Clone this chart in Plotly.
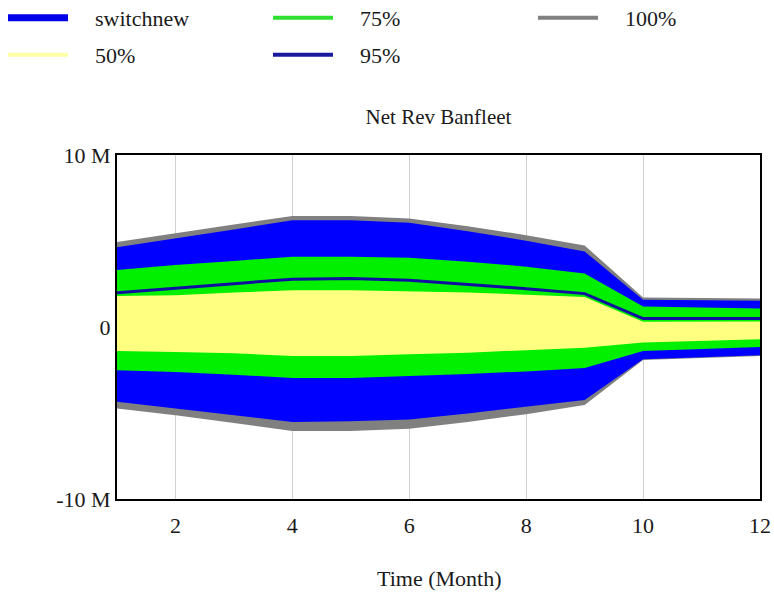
import plotly.graph_objects as go

# Months
months = [1, 2, 3, 4, 5, 6, 7, 8, 9, 10, 11, 12]

# Confidence bounds (values in millions)
p100_hi = [4.94, 5.47, 5.96, 6.45, 6.45, 6.31, 5.86, 5.34, 4.74, 1.71, 1.68, 1.65]
p95_hi = [4.63, 5.17, 5.67, 6.20, 6.20, 6.06, 5.57, 5.02, 4.39, 1.58, 1.55, 1.52]
p75_hi = [3.31, 3.60, 3.84, 4.09, 4.09, 4.03, 3.80, 3.51, 3.11, 1.19, 1.13, 1.08]
p50_hi = [1.80, 1.84, 2.00, 2.13, 2.13, 2.07, 2.00, 1.88, 1.74, 0.30, 0.31, 0.32]
p50_lo = [-1.40, -1.45, -1.53, -1.69, -1.69, -1.59, -1.49, -1.36, -1.20, -0.90, -0.80, -0.71]
p75_lo = [-2.52, -2.62, -2.77, -2.97, -2.97, -2.87, -2.73, -2.58, -2.38, -1.39, -1.28, -1.16]
p95_lo = [-4.34, -4.74, -5.13, -5.52, -5.48, -5.38, -5.03, -4.64, -4.24, -1.87, -1.76, -1.64]
p100_lo = [-4.74, -5.13, -5.58, -6.05, -6.05, -5.91, -5.52, -5.07, -4.54, -1.92, -1.80, -1.68]

# Base run
switchnew = [1.99, 2.27, 2.52, 2.78, 2.82, 2.72, 2.49, 2.23, 1.94, 0.49, 0.49, 0.49]

# Axis ticks
x_ticks = [2, 4, 6, 8, 10, 12]
y_tickvals = [-10, 0, 10]
y_ticktext = ["-10 M", "0", "10 M"]

FONT = "Liberation Serif, Times New Roman, serif"
TXT = "#1a1a1a"
W, H = 774, 593
GAP = "\u00a0\u00a0\u00a0\u00a0"

fig = go.Figure()

bands = [
    ("100%", p100_hi, p100_lo, "#808080"),
    ("95%", p95_hi, p95_lo, "#0000FF"),
    ("75%", p75_hi, p75_lo, "#00F000"),
    ("50%", p50_hi, p50_lo, "#FFFF80"),
]
for name, hi, lo, col in bands:
    fig.add_trace(go.Scatter(
        x=months + months[::-1],
        y=hi + lo[::-1],
        fill="toself", fillcolor=col,
        mode="lines", line=dict(width=0, color=col),
        name=name, showlegend=False, hoverinfo="skip",
    ))

fig.add_trace(go.Scatter(
    x=months, y=switchnew, mode="lines",
    line=dict(color="#1010A0", width=3),
    name="switchnew", showlegend=False,
))

# Legend entries (legend-only line samples), one legend box per entry
# (name, colour, width, legend id, column x px, row y px)
legend_items = [
    ("switchnew", "#0000E8", 7, "legend", 3, 18),
    ("50%", "#FFFFA8", 4, "legend2", 3, 55),
    ("75%", "#30E030", 4, "legend3", 268, 18),
    ("95%", "#1A1AA0", 4, "legend4", 268, 55),
    ("100%", "#808080", 4, "legend5", 533, 18),
]
legend_layout = {}
for name, col, w, lid, lx, ly in legend_items:
    fig.add_trace(go.Scatter(x=[None], y=[None], mode="lines",
                             line=dict(color=col, width=w), name=GAP + name,
                             legend=lid))
    legend_layout[lid] = dict(
        orientation="h", xref="container", yref="container",
        x=lx / W, y=1 - ly / H, xanchor="left", yanchor="middle",
        font=dict(family=FONT, size=22, color=TXT),
        bgcolor="rgba(0,0,0,0)", itemwidth=60,
    )

fig.update_layout(
    width=W, height=H,
    margin=dict(l=117, r=14, t=155, b=94, autoexpand=False),
    paper_bgcolor="white", plot_bgcolor="white",
    font=dict(family=FONT, size=22, color=TXT),
    title=dict(text="Net Rev Banfleet", x=0.5, xref="paper",
               y=1 - 117 / H, yref="container", yanchor="middle",
               xanchor="center", font=dict(family=FONT, size=21, color=TXT)),
    xaxis=dict(range=[1, 12], tickvals=x_ticks, showgrid=True,
               gridcolor="#D0D0D0", gridwidth=1, zeroline=False,
               showline=True, mirror=True, linecolor="black", linewidth=2,
               ticks="", ticklabelstandoff=6, automargin=False,
               tickfont=dict(family=FONT, size=22, color=TXT)),
    yaxis=dict(range=[-10, 10], tickvals=y_tickvals, ticktext=y_ticktext,
               showgrid=False, zeroline=False, automargin=False,
               showline=True, mirror=True, linecolor="black", linewidth=2,
               ticks="", tickfont=dict(family=FONT, size=22, color=TXT)),
    annotations=[dict(text="Time (Month)", x=0.5, xref="paper",
                      y=(499 - 578) / 344, yref="paper", yanchor="middle",
                      showarrow=False, font=dict(family=FONT, size=22, color=TXT))],
    **legend_layout,
)

fig.write_html("out.html", config={"displayModeBar": False},
               post_script="document.body.style.margin='0';document.body.style.padding='0';")
